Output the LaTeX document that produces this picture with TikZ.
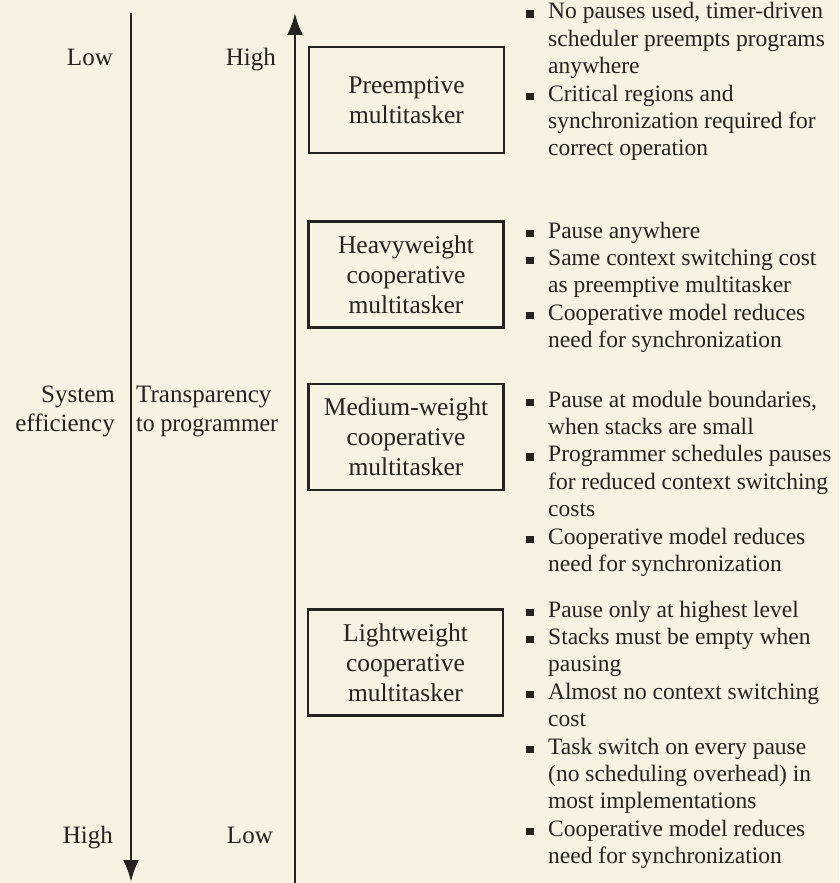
\documentclass[tikz,border=0pt]{standalone}
\usepackage{fontspec}
\usepackage{graphicx}
\setmainfont{Liberation Serif}
\usetikzlibrary{arrows.meta}
\definecolor{paper}{RGB}{247,242,226}
\definecolor{ink}{RGB}{38,34,32}
\newcommand{\bsq}{\leavevmode\llap{\textcolor{ink}{\rule[1pt]{7.5pt}{7.5pt}}\hspace{14.5pt}}}
\begin{document}
\begin{tikzpicture}[x=1pt,y=-1pt,
  axis/.style={line width=2.8pt, draw=ink},
  boxnode/.style={draw=ink, line width=2.2pt, minimum width=195pt, minimum height=106pt,
    inner sep=0pt, align=center, text=ink, font=\fontsize{25.5}{30}\selectfont},
  lbl/.style={text=ink, inner sep=0pt, font=\fontsize{25}{29}\selectfont},
  bul/.style={text=ink, inner sep=0pt, anchor=base west, font=\fontsize{23.5}{27.4}\selectfont}]
\fill[paper] (0,0) rectangle (839,883);
\useasboundingbox (0,0) rectangle (839,883);

% axes
\coordinate (effTop) at (131,13);
\coordinate (effBot) at (131,882);
\coordinate (trBot) at (295,883);
\coordinate (trTop) at (295,13);
\draw[axis,-{Latex[length=22pt,width=16pt]}] (effTop) -- (effBot);
\draw[axis,-{Latex[length=22pt,width=16pt]}] (trBot) -- (trTop);

% axis labels
\node[lbl, anchor=base east] (effLow) at (113,66) {Low};
\node[lbl, anchor=base east] (trHigh) at (276,66) {High};
\node[lbl, anchor=base east] (effHigh) at (113,843) {High};
\node[lbl, anchor=base east] (trLow) at (273,843) {Low};
\node[lbl, anchor=base east] (effName) at (115,402)
  {\parbox[t]{120pt}{\raggedleft System\\efficiency}};
\node[lbl, anchor=base west] (trName) at (136,402)
  {\parbox[t]{150pt}{\raggedright Transparency\\\scalebox{0.95}[1]{to programmer}}};

% boxes
\node[boxnode] (pre) at (406.5,100) {Preemptive\\multitasker};
\node[boxnode] (heavy) at (406,274.5) {Heavyweight\\cooperative\\multitasker};
\node[boxnode] (medium) at (406,437) {Medium-weight\\cooperative\\multitasker};
\node[boxnode] (light) at (405.5,662.5) {Lightweight\\cooperative\\multitasker};

% bullet lists
\node[bul] (preList) at (548,19) {\parbox[t]{300pt}{\raggedright
  \bsq No pauses used, timer-driven\\
  scheduler preempts programs\\
  anywhere\\
  \bsq Critical regions and\\
  synchronization required for\\
  correct operation}};
\node[bul] (heavyList) at (548,238) {\parbox[t]{300pt}{\raggedright
  \bsq Pause anywhere\\
  \bsq Same context switching cost\\
  as preemptive multitasker\\
  \bsq Cooperative model reduces\\
  need for synchronization}};
\node[bul] (mediumList) at (548,407) {\parbox[t]{300pt}{\raggedright
  \bsq Pause at module boundaries,\\
  when stacks are small\\
  \bsq Programmer schedules pauses\\
  for reduced context switching\\
  costs\\
  \bsq Cooperative model reduces\\
  need for synchronization}};
\node[bul] (lightList) at (548,617) {\parbox[t]{300pt}{\raggedright
  \bsq Pause only at highest level\\
  \bsq Stacks must be empty when\\
  pausing\\
  \bsq Almost no context switching\\
  cost\\
  \bsq Task switch on every pause\\
  (no scheduling overhead) in\\
  most implementations\\
  \bsq Cooperative model reduces\\
  need for synchronization}};
\end{tikzpicture}
\end{document}
